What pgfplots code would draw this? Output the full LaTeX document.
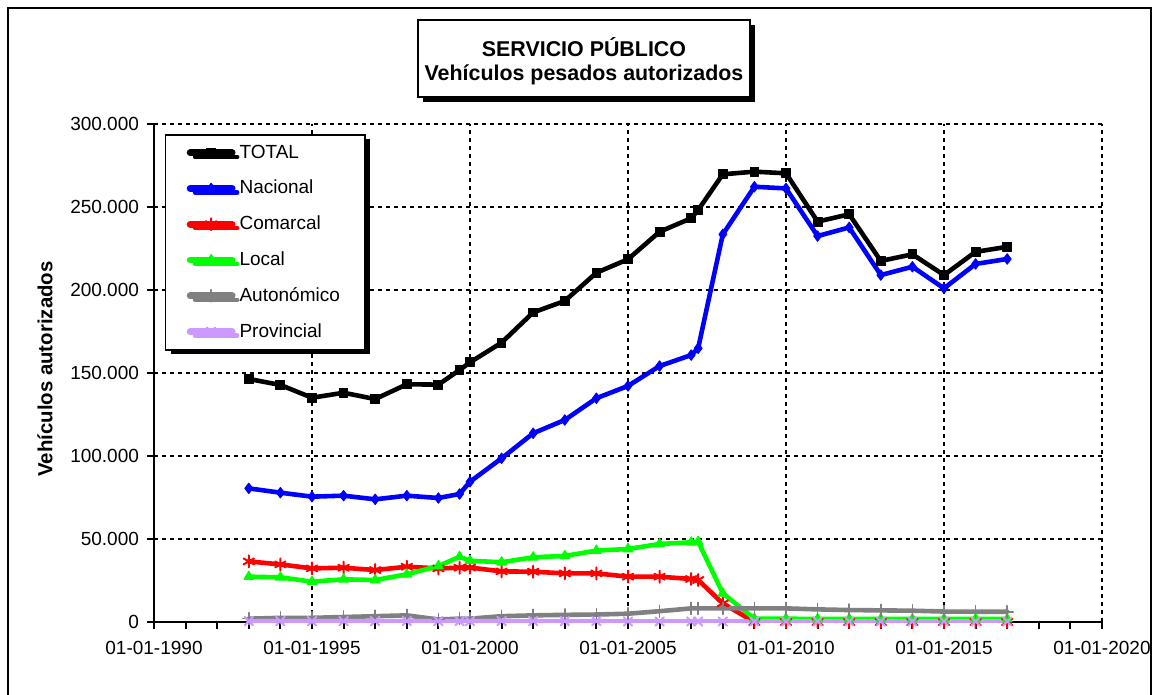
\documentclass[border=0pt]{standalone}
\usepackage{fontspec}
\setmainfont{Liberation Sans}
\usepackage{pgfplots}
\pgfplotsset{compat=1.18}
\usepackage{pgfplotstable}
\usetikzlibrary{shadows}
\definecolor{lilac}{RGB}{204,153,255}
\definecolor{vgreen}{RGB}{0,255,0}
\definecolor{vgray}{RGB}{128,128,128}

\pgfplotstableread{
x       total   nac     com    loc    aut   prov
1993    146400  80500   36500  27300  2000  500
1994    142800  77900   34700  26900  2500  500
1995    135100  75500   32300  24300  2500  500
1996    138100  76100   32700  25700  3000  500
1997    134300  73900   31300  25300  3500  500
1998    143200  76100   33300  28700  4000  500
1999    143000  74700   32300  33700  1500  500
1999.67 151800  77100   32700  39300  2000  500
2000    156400  84500   32800  36900  2000  500
2001    168300  98600   30500  36000  3500  500
2002    186500  113700  30300  39000  4000  500
2003    193400  121700  29300  39800  4300  500
2004    210400  134800  29300  43000  4500  500
2005    218500  142200  27300  44000  5000  300
2006    235100  154200  27300  47000  6500  300
2007    243200  160800  25900  48000  8200  300
2007.22 248200  164900  25300  48400  8200  300
2008    269700  233500  11200  17300  8200  300
2009    271300  262200  0      2000   8200  300
2010    270300  261200  0      2000   8200  300
2011    241200  232500  0      1800   7600  300
2012    245600  237700  0      1800   7200  300
2013    217500  209000  0      1800   7000  300
2014    221500  214000  0      1800   6800  300
2015    209000  201000  0      1800   6300  300
2016    223000  215700  0      1800   6200  300
2017    226000  218700  0      1800   6200  300
}\datatab

\pgfplotsset{
  legend image code/.code={\draw[mark repeat=2,mark phase=2,#1,line width=3.4pt] plot coordinates {(0pt,0pt)(10.5pt,0pt)(21pt,0pt)};}
}

\begin{document}
\begin{tikzpicture}
\useasboundingbox (0,0) rectangle (576pt,-347.5pt);
% outer frame
\draw[line width=1pt] (4pt,-360pt) -- (4pt,-4pt) -- (575.4pt,-4pt) -- (575.4pt,-360pt);
% title box with shadow
\fill[black] (211.5pt,-12.5pt) rectangle (377.5pt,-51pt);
\draw[line width=0.75pt, fill=white] (209pt,-10pt) rectangle (375pt,-48.5pt);
\node[font=\fontsize{10.7}{12}\selectfont\bfseries] at (292pt,-23.5pt) {SERVICIO PÚBLICO};
\node[font=\fontsize{10.7}{12}\selectfont\bfseries] at (292pt,-37.5pt) {Vehículos pesados autorizados};

\begin{axis}[
  at={(77pt,-311pt)}, anchor=south west,
  width=474pt, height=249pt, scale only axis,
  xmin=1990, xmax=2020, ymin=0, ymax=300000,
  xtick={1990,1995,...,2020},
  xticklabels={01-01-1990,01-01-1995,01-01-2000,01-01-2005,01-01-2010,01-01-2015,01-01-2020},
  minor x tick num=4,
  ytick={0,50000,...,300000},
  scaled y ticks=false,
  /pgf/number format/fixed,
  /pgf/number format/assume math mode=true,
  /pgf/number format/1000 sep={.},
  axis x line*=bottom, axis y line*=left,
  axis line style={line width=1pt},
  tick align=outside,
  major tick length=3.5pt, minor tick length=3.5pt,
  every tick/.style={black, line width=1pt},
  grid=major,
  major grid style={black, line width=1pt, dash pattern=on 2pt off 2pt},
  tick label style={font=\fontsize{9.5}{11}\selectfont},
  xticklabel style={yshift=-2.5pt},
  yticklabel style={xshift=-0.5pt},
  ylabel={Vehículos autorizados},
  ylabel style={font=\fontsize{10.2}{12}\selectfont\bfseries, at={(axis description cs:-0.115,0.508)}, anchor=center},
  legend cell align=left,
  legend style={at={(axis description cs:0,1)}, anchor=north west, xshift=5.5pt, yshift=-5pt,
    draw=black, line width=0.75pt, fill=white,
    font=\fontsize{9.5}{11}\selectfont,
    row sep=5.5pt, inner xsep=10.5pt, inner ysep=3pt,
    drop shadow={shadow xshift=2.5pt, shadow yshift=-2pt, opacity=1, fill=black}},
  every axis plot/.append style={line width=2.3pt, line join=round, line cap=round},
]
\addplot[black, mark=square*, mark size=2.2pt, mark options={solid, line width=0.5pt}] table[x=x,y=total]{\datatab};
\addlegendentry{TOTAL}
\addplot[blue, mark=diamond*, mark size=2.6pt, mark options={solid, line width=0.5pt}] table[x=x,y=nac]{\datatab};
\addlegendentry{Nacional}
\addplot[red, mark=asterisk, mark size=3pt, mark options={solid, line width=1pt}] table[x=x,y=com]{\datatab};
\addlegendentry{Comarcal}
\addplot[vgreen, mark=triangle*, mark size=2.8pt, mark options={solid, line width=0.5pt}] table[x=x,y=loc]{\datatab};
\addlegendentry{Local}
\addplot[vgray, mark=+, mark size=3pt, mark options={solid, line width=0.8pt}] table[x=x,y=aut]{\datatab};
\addlegendentry{Autonómico}
\addplot[lilac, mark=x, mark size=3pt, mark options={solid, line width=1pt}] table[x=x,y=prov]{\datatab};
\addlegendentry{Provincial}
\end{axis}
\end{tikzpicture}
\end{document}
